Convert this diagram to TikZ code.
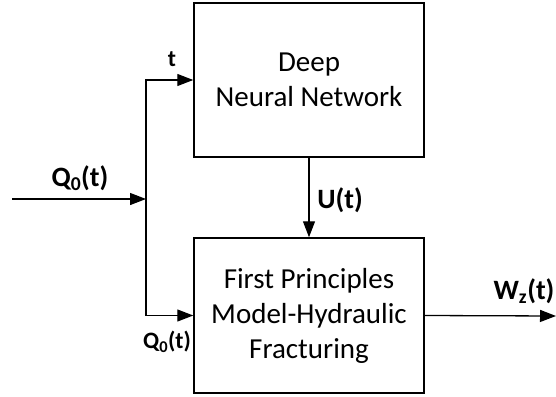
\documentclass[tikz,border=0pt]{standalone}
\usepackage{fontspec}
\setmainfont{Carlito}
\usetikzlibrary{arrows.meta,positioning}

\begin{document}
\begin{tikzpicture}[
  x=1pt, y=-1pt,
  font=\fontsize{29}{35}\selectfont,
  block/.style={draw, line width=1.5pt, minimum width=230pt, align=center},
  sig/.style={line width=1.3pt, -{Triangle[length=16pt,width=12pt]}},
  lbl/.style={font=\fontsize{28}{32}\selectfont\bfseries},
  smalllbl/.style={font=\fontsize{23.5}{27}\selectfont\bfseries}
]
\useasboundingbox (0,0) rectangle (556,396);

% Blocks
\node[block, minimum height=154pt] (dnn) at (309,80) {Deep\\Neural Network};
\node[block, minimum height=155pt] (fpm) at (309,315.5) {First Principles\\Model-Hydraulic\\Fracturing};

% Free ends and branch point
\coordinate (qin) at (12,199);
\coordinate (split) at (146,199);
\coordinate (wout) at (556,316);

% Signals
\draw[sig] (qin) -- (split);
\draw[sig] (split) |- (dnn.west);
\draw[sig] (split) |- (fpm.west);
\draw[sig] (dnn.south) -- (fpm.north);
\draw[sig] (fpm.east) -- (wout);

% Labels
\node[lbl] (qlbl) at (80,178) {Q\textsubscript{0}(t)};
\node[smalllbl] (tlbl) at (172,59) {t};
\node[smalllbl] (q2lbl) at (167,342) {Q\textsubscript{0}(t)};
\node[lbl] (ulbl) at (340,200) {U(t)};
\node[lbl] (wlbl) at (524,291) {W\textsubscript{z}(t)};

\end{tikzpicture}
\end{document}
